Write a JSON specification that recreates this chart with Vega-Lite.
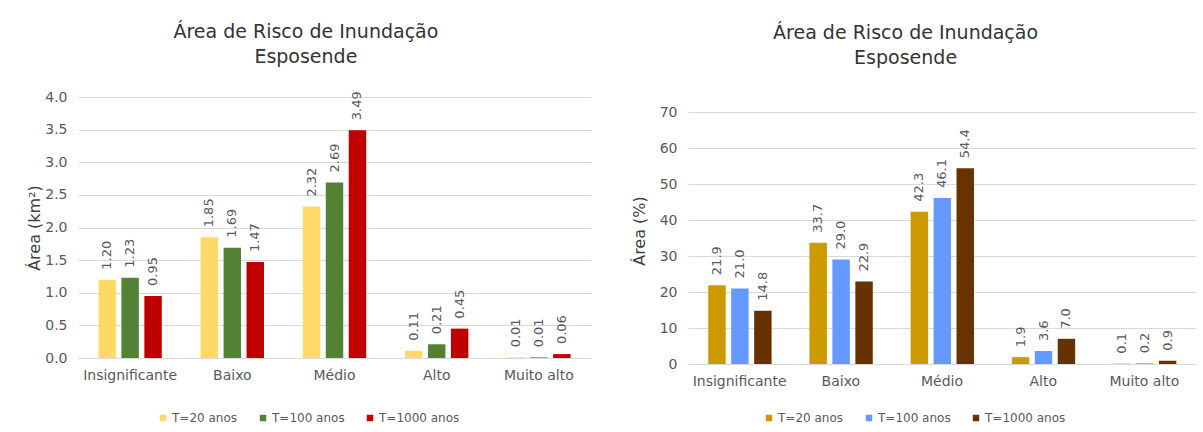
{
  "$schema": "https://vega.github.io/schema/vega-lite/v6.json",
  "background": "white",
  "padding": {"left": 26, "top": 23, "right": 6, "bottom": 5},
  "datasets": {
    "km2": [
      {"categoria": "Insignificante", "periodo": "T=20 anos", "valor": 1.20},
      {"categoria": "Insignificante", "periodo": "T=100 anos", "valor": 1.23},
      {"categoria": "Insignificante", "periodo": "T=1000 anos", "valor": 0.95},
      {"categoria": "Baixo", "periodo": "T=20 anos", "valor": 1.85},
      {"categoria": "Baixo", "periodo": "T=100 anos", "valor": 1.69},
      {"categoria": "Baixo", "periodo": "T=1000 anos", "valor": 1.47},
      {"categoria": "Médio", "periodo": "T=20 anos", "valor": 2.32},
      {"categoria": "Médio", "periodo": "T=100 anos", "valor": 2.69},
      {"categoria": "Médio", "periodo": "T=1000 anos", "valor": 3.49},
      {"categoria": "Alto", "periodo": "T=20 anos", "valor": 0.11},
      {"categoria": "Alto", "periodo": "T=100 anos", "valor": 0.21},
      {"categoria": "Alto", "periodo": "T=1000 anos", "valor": 0.45},
      {"categoria": "Muito alto", "periodo": "T=20 anos", "valor": 0.01},
      {"categoria": "Muito alto", "periodo": "T=100 anos", "valor": 0.01},
      {"categoria": "Muito alto", "periodo": "T=1000 anos", "valor": 0.06}
    ],
    "pct": [
      {"categoria": "Insignificante", "periodo": "T=20 anos", "valor": 21.9},
      {"categoria": "Insignificante", "periodo": "T=100 anos", "valor": 21.0},
      {"categoria": "Insignificante", "periodo": "T=1000 anos", "valor": 14.8},
      {"categoria": "Baixo", "periodo": "T=20 anos", "valor": 33.7},
      {"categoria": "Baixo", "periodo": "T=100 anos", "valor": 29.0},
      {"categoria": "Baixo", "periodo": "T=1000 anos", "valor": 22.9},
      {"categoria": "Médio", "periodo": "T=20 anos", "valor": 42.3},
      {"categoria": "Médio", "periodo": "T=100 anos", "valor": 46.1},
      {"categoria": "Médio", "periodo": "T=1000 anos", "valor": 54.4},
      {"categoria": "Alto", "periodo": "T=20 anos", "valor": 1.9},
      {"categoria": "Alto", "periodo": "T=100 anos", "valor": 3.6},
      {"categoria": "Alto", "periodo": "T=1000 anos", "valor": 7.0},
      {"categoria": "Muito alto", "periodo": "T=20 anos", "valor": 0.1},
      {"categoria": "Muito alto", "periodo": "T=100 anos", "valor": 0.2},
      {"categoria": "Muito alto", "periodo": "T=1000 anos", "valor": 0.9}
    ]
  },
  "spacing": 40,
  "resolve": {"scale": {"color": "independent"}, "legend": {"color": "independent"}},
  "hconcat": [
    {
      "data": {"name": "km2"},
      "width": 513,
      "height": 261,
      "title": {"text": ["Área de Risco de Inundação", "Esposende"], "frame": "bounds", "anchor": "middle", "offset": 23, "dx": -3},
      "encoding": {
        "x": {"field": "categoria", "type": "nominal", "sort": ["Insignificante", "Baixo", "Médio", "Alto", "Muito alto"], "title": null,
              "scale": {"paddingInner": 0.38, "paddingOuter": 0.2},
              "axis": {"labelAngle": 0, "ticks": false, "labelPadding": 10}},
        "xOffset": {"field": "periodo", "type": "nominal", "sort": ["T=20 anos", "T=100 anos", "T=1000 anos"], "scale": {"paddingInner": 0.24}},
        "y": {"field": "valor", "type": "quantitative", "title": "Área (km²)",
              "scale": {"domain": [0, 4]},
              "axis": {"values": [0, 0.5, 1, 1.5, 2, 2.5, 3, 3.5, 4], "format": ".1f", "titlePadding": 2}}
      },
      "layer": [
        {
          "mark": {"type": "bar"},
          "encoding": {
            "color": {"field": "periodo", "type": "nominal", "sort": ["T=20 anos", "T=100 anos", "T=1000 anos"],
                      "scale": {"range": ["#FFD966", "#548235", "#C00000"]},
                      "legend": {"title": null, "orient": "none", "direction": "horizontal", "legendX": 79, "legendY": 315}}
          }
        },
        {
          "mark": {"type": "text", "angle": 270, "align": "left", "baseline": "middle", "dx": 10, "fontSize": 13, "color": "#595959", "font": "DejaVu Sans"},
          "encoding": {"text": {"field": "valor", "type": "quantitative", "format": ".2f"}}
        }
      ]
    },
    {
      "data": {"name": "pct"},
      "width": 508,
      "height": 267,
      "title": {"text": ["Área de Risco de Inundação", "Esposende"], "frame": "bounds", "anchor": "middle", "offset": 29, "dx": -8},
      "encoding": {
        "x": {"field": "categoria", "type": "nominal", "sort": ["Insignificante", "Baixo", "Médio", "Alto", "Muito alto"], "title": null,
              "scale": {"paddingInner": 0.38, "paddingOuter": 0.2},
              "axis": {"labelAngle": 0, "ticks": false, "labelPadding": 10}},
        "xOffset": {"field": "periodo", "type": "nominal", "sort": ["T=20 anos", "T=100 anos", "T=1000 anos"], "scale": {"paddingInner": 0.24}},
        "y": {"field": "valor", "type": "quantitative", "title": "Área (%)",
              "scale": {"domain": [0, 74.17], "nice": false},
              "axis": {"values": [0, 10, 20, 30, 40, 50, 60, 70], "format": "d", "titlePadding": 12}}
      },
      "layer": [
        {
          "mark": {"type": "bar"},
          "encoding": {
            "color": {"field": "periodo", "type": "nominal", "sort": ["T=20 anos", "T=100 anos", "T=1000 anos"],
                      "scale": {"range": ["#CC9900", "#6699FF", "#663300"]},
                      "legend": {"title": null, "orient": "none", "direction": "horizontal", "legendX": 75, "legendY": 315}}
          }
        },
        {
          "mark": {"type": "text", "angle": 270, "align": "left", "baseline": "middle", "dx": 10, "fontSize": 13, "color": "#595959", "font": "DejaVu Sans"},
          "encoding": {"text": {"field": "valor", "type": "quantitative", "format": ".1f"}}
        }
      ]
    }
  ],
  "config": {
    "font": "DejaVu Sans",
    "view": {"stroke": null},
    "title": {"fontSize": 19, "fontWeight": "normal", "color": "#333333", "font": "DejaVu Sans", "lineHeight": 25},
    "axis": {"labelFont": "DejaVu Sans", "labelFontSize": 14, "labelColor": "#595959", "titleFont": "DejaVu Sans", "titleFontSize": 16, "titleFontWeight": "normal", "titleColor": "#404040", "gridColor": "#d9d9d9", "domainColor": "#d9d9d9", "tickColor": "#d9d9d9"},
    "axisY": {"domain": false, "ticks": false, "labelPadding": 11},
    "legend": {"labelFont": "DejaVu Sans", "labelFontSize": 12, "labelColor": "#595959", "symbolType": "square", "symbolSize": 42, "symbolStrokeWidth": 0, "columnPadding": 19, "labelOffset": 3}
  }
}
